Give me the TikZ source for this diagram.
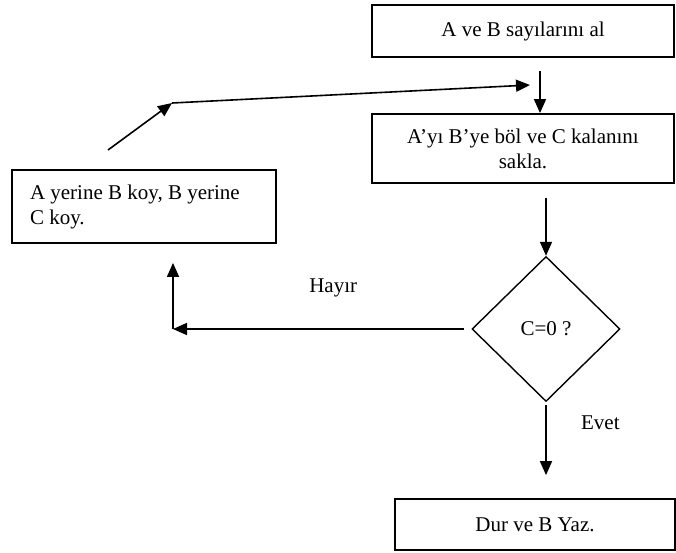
\documentclass[tikz,border=0pt]{standalone}
\usepackage{fontspec}
\setmainfont{Liberation Serif}
\usetikzlibrary{arrows.meta,shapes.geometric}
\tikzset{
	box/.style={draw, line width=1.8pt, rectangle, inner sep=0pt},
	test/.style={draw, line width=1.4pt, diamond, aspect=1.02, inner sep=0pt},
	arr/.style={line width=1.6pt, -{Triangle[length=14pt,width=12pt]}}
}

\begin{document}
\begin{tikzpicture}[x=1pt, y=-1pt, font=\fontsize{21}{25}\selectfont]
			%%%%% START %%%%%
			\useasboundingbox (0, 0) rectangle (676, 552);
			
			\node[box, minimum width=302pt, minimum height=52pt] (start) at (523, 31) {A ve B sayılarını al};
			\node[box, minimum width=302pt, minimum height=69pt, text width=250pt, align=flush center] (divide) at (523, 148.5) {A’yı B’ye böl ve C kalanını\\sakla.};
			\node[test, minimum width=148pt, minimum height=145pt] (check) at (546, 329) {C=0 ?};
			\node[box, minimum width=280pt, minimum height=51pt] (stop) at (535, 524.5) {Dur ve B Yaz.};
			\node[box, minimum width=264pt, minimum height=73pt, text width=228pt, align=flush left] (swap) at (144, 206.5) {A yerine B koy, B yerine\\C koy.};
			
			\coordinate (no) at (173, 329);
			\coordinate (loopa) at (108, 150);
			\coordinate (loopb) at (172, 103);
			\coordinate (loopc) at (530, 85);
			
			\draw[arr] ([xshift=17pt, yshift=-13pt]start.south) -- ([xshift=17pt]divide.north);
			\draw[arr] (divide.south -| check.north) ++(0, 14) -- (check.north);
			\draw[arr] ([yshift=-3pt]check.south) -- ([yshift=23pt]stop.north -| check.south) node[pos=0.25, right=31pt] {Evet};
			\draw[arr] ([xshift=-7pt]check.west) -- (no) node[pos=0.45, above=28pt] {Hayır};
			\draw[arr] (no) -- ([yshift=-19pt]swap.south -| no);
			
			\draw[arr] (loopa) -- (loopb);
			\draw[arr] (loopb) -- (loopc);
			%%%%% END %%%%%
		\end{tikzpicture}
\end{document}
